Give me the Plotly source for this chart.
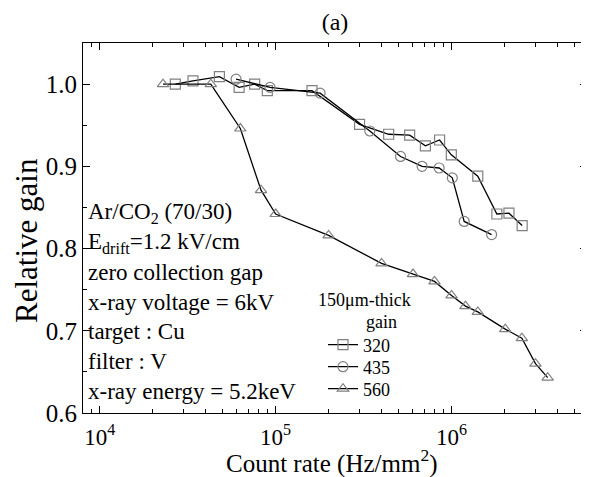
import plotly.graph_objects as go

# ---- data ----
rate_320 = [2.69e4, 3.39e4, 4.79e4, 6.2e4, 7.6e4, 8.97e4, 1.61e5, 3.0e5, 4.39e5, 5.78e5,
            7.1e5, 8.55e5, 9.97e5, 1.41e6, 1.81e6, 2.12e6, 2.52e6]
gain_320 = [1.0, 1.004, 1.009, 0.996, 1.0, 0.992, 0.992, 0.951, 0.939, 0.938,
            0.925, 0.932, 0.914, 0.888, 0.842, 0.843, 0.828]

rate_435 = [5.96e4, 9.3e4, 1.79e5, 3.43e5, 5.13e5, 6.8e5, 8.5e5, 1.01e6, 1.18e6, 1.69e6]
gain_435 = [1.006, 0.996, 0.989, 0.943, 0.912, 0.900, 0.898, 0.886, 0.833, 0.817]

rate_560 = [2.29e4, 4.28e4, 6.3e4, 8.26e4, 1.0e5, 2.0e5, 4.0e5, 6.04e5, 8.0e5, 1.0e6,
            1.2e6, 1.41e6, 2.02e6, 2.51e6, 3.0e6, 3.52e6]
gain_560 = [1.0, 1.0, 0.946, 0.871, 0.842, 0.816, 0.782, 0.769, 0.760, 0.743,
            0.730, 0.723, 0.702, 0.691, 0.660, 0.643]

series_names = ["320", "435", "560"]
x_major = [1e4, 1e5, 1e6]
x_major_text = ["10<sup>4</sup>", "10<sup>5</sup>", "10<sup>6</sup>"]
y_major = [0.6, 0.7, 0.8, 0.9, 1.0]
y_major_text = ["0.6", "0.7", "0.8", "0.9", "1.0"]
info_lines = ["Ar/CO<sub>2</sub> (70/30)", "E<sub>drift</sub>=1.2 kV/cm", "zero collection gap",
              "x-ray voltage = 6kV", "target : Cu", "filter : V", "x-ray energy = 5.2keV"]

FONT = "Liberation Serif, Times New Roman, serif"
MK = "#808080"

# page body has an 8px margin, so the figure is sized/offset to compensate
W, H = 581, 469
ML, MR, MT, MB = 75, 2, 35, 64
PH = H - MT - MB  # plot height in px


def py(page_y):
    """paper y for a page pixel y"""
    return (H - MB - (page_y - 8)) / PH


def px(page_x):
    return (page_x - 8 - ML) / (W - ML - MR)


fig = go.Figure()
legends = ["legend", "legend2", "legend3"]
for (xs, ys, name, sym), lg in zip([(rate_320, gain_320, series_names[0], "square-open"),
                                    (rate_435, gain_435, series_names[1], "circle-open"),
                                    (rate_560, gain_560, series_names[2], "triangle-up-open")], legends):
    fig.add_trace(go.Scatter(
        x=xs, y=ys, name=name, mode="lines+markers", legend=lg,
        line=dict(color="black", width=1.3),
        marker=dict(symbol=sym, size=10, color=MK, line=dict(color=MK, width=1.2)),
    ))

minor_x = [m * 10 ** e for e in range(3, 7) for m in range(2, 10)]
minor_x = [v for v in minor_x if 8e3 <= v <= 6e6]

fig.update_xaxes(
    type="log", range=[3.905, 6.77], automargin=False,
    tickvals=x_major, ticktext=x_major_text,
    ticks="inside", ticklen=7, tickwidth=1, tickcolor="black",
    minor=dict(tickvals=minor_x, ticks="inside", ticklen=4, tickcolor="black", tickwidth=1),
    showline=True, linecolor="black", linewidth=1, mirror="allticks",
    showgrid=False, zeroline=False, ticklabelstandoff=3,
    tickfont=dict(family=FONT, size=23, color="black"),
)
fig.update_yaxes(
    range=[0.6, 1.05], automargin=False,
    tickvals=y_major, ticktext=y_major_text,
    ticks="inside", ticklen=7, tickwidth=1, tickcolor="black",
    minor=dict(dtick=0.05, ticks="inside", ticklen=4, tickcolor="black", tickwidth=1),
    showline=True, linecolor="black", linewidth=1, mirror="allticks",
    showgrid=False, zeroline=False,
    tickfont=dict(family=FONT, size=25, color="black"),
)

# axis titles
fig.add_annotation(text="Count rate (Hz/mm<sup>2</sup>)", xref="paper", yref="paper",
                   x=px(331), y=py(461), xanchor="center", yanchor="middle", showarrow=False,
                   font=dict(family=FONT, size=25, color="black"))
fig.add_annotation(text="Relative gain", xref="paper", yref="paper", textangle=-90,
                   x=px(26), y=py(241), xanchor="center", yanchor="middle", showarrow=False,
                   font=dict(family=FONT, size=31, color="black"))

for i, t in enumerate(info_lines):
    fig.add_annotation(text=t, xref="paper", yref="paper", x=px(86), y=py(213 + i * 29.7),
                       xanchor="left", yanchor="middle", showarrow=False,
                       font=dict(family=FONT, size=23, color="black"))

fig.add_annotation(text="150μm-thick", xref="paper", yref="paper", x=px(316), y=py(300),
                   xanchor="left", yanchor="middle", showarrow=False,
                   font=dict(family=FONT, size=18, color="black"))
fig.add_annotation(text="gain", xref="paper", yref="paper", x=px(381), y=py(322),
                   xanchor="center", yanchor="middle", showarrow=False,
                   font=dict(family=FONT, size=18, color="black"))

leg_common = dict(xanchor="left", yanchor="middle", bgcolor="rgba(0,0,0,0)",
                  font=dict(family=FONT, size=18, color="black"), itemwidth=30,
                  borderwidth=0)
fig.update_layout(
    width=W, height=H,
    margin=dict(l=ML, r=MR, t=MT, b=MB),
    paper_bgcolor="white", plot_bgcolor="white",
    title=dict(text="(a)", x=px(335), xref="paper", xanchor="center",
               y=1 - 14 / H, yref="container", yanchor="middle",
               font=dict(family=FONT, size=24, color="black")),
    showlegend=True,
    legend=dict(x=px(323), y=py(345), **leg_common),
    legend2=dict(x=px(323), y=py(367), **leg_common),
    legend3=dict(x=px(323), y=py(389), **leg_common),
)

fig.write_html("out.html")
